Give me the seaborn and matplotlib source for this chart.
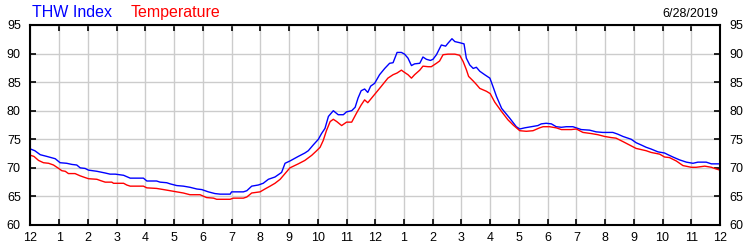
import matplotlib
matplotlib.use("Agg")
import matplotlib.pyplot as plt
import seaborn as sns
import pandas as pd

# ---- data (hours since midnight, values in deg F) ----
thw_hours = [0, 0.15, 0.34, 0.57, 0.86, 1.03, 1.26, 1.44, 1.61, 1.73, 1.90, 2.02, 2.31, 2.60, 2.77, 2.95,
             3.24, 3.47, 3.93, 4.05, 4.39, 4.51, 4.74, 4.86, 5.09, 5.32, 5.55, 5.79, 5.96, 6.19, 6.42,
             6.60, 6.95, 7.0, 7.41, 7.53, 7.70, 7.93, 8.1, 8.28, 8.51, 8.74, 8.86, 9.03, 9.32, 9.55,
             9.67, 9.84, 10.02, 10.13, 10.25, 10.37, 10.54, 10.71, 10.89, 11.0, 11.18, 11.30, 11.40,
             11.51, 11.63, 11.74, 11.84, 11.98, 12.15, 12.33, 12.5, 12.62, 12.76, 12.91, 13.02, 13.14,
             13.26, 13.37, 13.55, 13.66, 13.78, 13.92, 14.01, 14.13, 14.30, 14.45, 14.53, 14.67, 14.77,
             14.94, 15.09, 15.17, 15.29, 15.41, 15.52, 15.64, 15.81, 15.99, 16.10, 16.22, 16.40, 16.68,
             16.91, 17.03, 17.20, 17.43, 17.66, 17.78, 17.95, 18.13, 18.30, 18.48, 18.65, 18.88, 19.0,
             19.17, 19.46, 19.69, 19.92, 20.27, 20.44, 20.62, 20.91, 21.08, 21.26, 21.43, 21.60, 21.84,
             22.07, 22.19, 22.36, 22.59, 22.83, 23.06, 23.23, 23.52, 23.70, 24.0]
thw_values = [73.3, 73.0, 72.3, 72.0, 71.6, 70.9, 70.8, 70.6, 70.5, 70.0, 69.9, 69.6, 69.4, 69.1, 68.9, 68.9,
              68.7, 68.2, 68.2, 67.7, 67.7, 67.5, 67.4, 67.2, 66.9, 66.8, 66.6, 66.3, 66.2, 65.8, 65.5,
              65.4, 65.4, 65.8, 65.8, 66.0, 66.8, 67.0, 67.3, 68.0, 68.4, 69.2, 70.8, 71.2, 72.0, 72.6,
              73.0, 74.0, 75.0, 76.0, 76.9, 79.0, 80.0, 79.3, 79.3, 79.8, 80.0, 80.6, 82.2,
              83.5, 83.8, 83.2, 84.3, 84.8, 86.3, 87.4, 88.3, 88.4, 90.2, 90.2, 89.9, 89.2,
              87.9, 88.2, 88.3, 89.4, 89.0, 88.8, 89.0, 89.8, 91.5, 91.3, 91.8, 92.6, 92.1,
              91.9, 91.7, 89.2, 88.0, 87.4, 87.6, 86.9, 86.3, 85.7, 84.2, 82.5, 80.4, 78.7,
              77.2, 76.8, 77.0, 77.2, 77.4, 77.7, 77.8, 77.7, 77.2, 77.1, 77.2, 77.2, 77.0,
              76.7, 76.6, 76.3, 76.2, 76.2, 75.9, 75.5, 75.0, 74.4, 74.0, 73.6, 73.3, 72.8,
              72.6, 72.3, 71.9, 71.4, 71.0, 70.8, 71.0, 71.0, 70.7, 70.7]

temp_hours = [0, 0.12, 0.28, 0.45, 0.63, 0.80, 0.98, 1.09, 1.21, 1.32, 1.55, 1.73, 1.90, 2.02, 2.31, 2.42,
              2.60, 2.83, 2.89, 3.24, 3.35, 3.47, 3.93, 4.05, 4.39, 4.63, 4.86, 5.09, 5.32, 5.55, 5.90,
              6.13, 6.37, 6.48, 6.95, 7.06, 7.41, 7.53, 7.70, 7.99, 8.16, 8.34, 8.51, 8.69, 8.86, 9.03,
              9.32, 9.55, 9.79, 9.96, 10.08, 10.19, 10.30, 10.43, 10.54, 10.66, 10.83, 11.0, 11.18,
              11.35, 11.51, 11.63, 11.74, 11.92, 12.15, 12.44, 12.62, 12.76, 12.91, 13.02, 13.14, 13.26,
              13.37, 13.55, 13.66, 13.84, 13.95, 14.13, 14.24, 14.36, 14.53, 14.77, 14.94, 15.06, 15.17,
              15.25, 15.41, 15.52, 15.64, 15.87, 16.0, 16.16, 16.39, 16.62, 16.80, 17.03, 17.26, 17.49,
              17.72, 17.84, 18.07, 18.30, 18.48, 18.82, 19.0, 19.23, 19.52, 19.75, 19.98, 20.21, 20.38,
              20.62, 20.85, 21.08, 21.43, 21.60, 21.90, 22.07, 22.24, 22.48, 22.71, 23.0, 23.17, 23.47,
              23.70, 23.87, 24.0]
temp_values = [72.2, 72.0, 71.3, 70.9, 70.8, 70.5, 69.9, 69.5, 69.4, 69.0, 69.0, 68.6, 68.3, 68.1, 68.0, 67.8,
               67.5, 67.5, 67.3, 67.3, 67.0, 66.8, 66.8, 66.5, 66.4, 66.2, 66.0, 65.8, 65.6, 65.3, 65.3,
               64.8, 64.7, 64.5, 64.5, 64.7, 64.7, 64.9, 65.6, 65.8, 66.3, 66.8, 67.3, 68.0, 69.0, 70.0,
               70.7, 71.3, 72.2, 73.0, 73.6, 74.8, 76.5, 78.1, 78.5, 78.1, 77.4, 78.0, 78.0,
               79.6, 81.0, 81.9, 81.4, 82.5, 83.9, 85.7, 86.3, 86.6, 87.1, 86.7, 86.3, 85.7,
               86.3, 87.1, 87.8, 87.7, 87.7, 88.3, 88.7, 89.8, 89.9, 89.9, 89.7, 88.6, 87.2,
               86.0, 85.2, 84.6, 83.9, 83.4, 83.0, 81.5, 79.9, 78.4, 77.5, 76.5, 76.4, 76.5,
               77.0, 77.2, 77.2, 77.0, 76.7, 76.7, 76.8, 76.2, 76.0, 75.8, 75.5, 75.3, 75.2,
               74.6, 74.0, 73.4, 73.0, 72.7, 72.4, 71.9, 71.8, 71.2, 70.4, 70.1, 70.1, 70.3,
               70.1, 69.8, 69.6]

x_tick_labels = ["12", "1", "2", "3", "4", "5", "6", "7", "8", "9", "10", "11",
                 "12", "1", "2", "3", "4", "5", "6", "7", "8", "9", "10", "11", "12"]
y_ticks = [60, 65, 70, 75, 80, 85, 90, 95]
series_names = ["THW Index", "Temperature"]
series_colors = ["#0000ff", "#ff0000"]
date_label = "6/28/2019"

sns.set_theme(style="white")
plt.rcParams["font.family"] = ["Liberation Sans", "DejaVu Sans"]

df = pd.concat([
    pd.DataFrame({"hour": thw_hours, "value": thw_values, "series": series_names[0]}),
    pd.DataFrame({"hour": temp_hours, "value": temp_values, "series": series_names[1]}),
])

fig = plt.figure(figsize=(7.5, 2.5), dpi=100)
ax = fig.add_axes([30.5 / 750, 0.1, (720 - 30.5) / 750, 0.8])

sns.lineplot(data=df, x="hour", y="value", hue="series",
             palette=dict(zip(series_names, series_colors)),
             linewidth=1.0, legend=False, ax=ax, estimator=None, sort=False)

ax.set_xlim(0, 24)
ax.set_ylim(60, 95)
ax.set_xticks(range(25))
ax.set_xticklabels(x_tick_labels)
ax.set_yticks(y_ticks)
ax.set_xlabel("")
ax.set_ylabel("")
ax.grid(True, color="#cccccc", linewidth=1.0)
ax.set_axisbelow(True)
for s in ax.spines.values():
    s.set_color("black")
    s.set_linewidth(1.5)
    s.set_visible(True)

ax.tick_params(axis="both", which="both", direction="in", length=4, width=1.2,
               color="black", labelsize=9, labelcolor="black",
               top=True, right=True, bottom=True, left=True,
               labelright=True, labelleft=True)
ax.tick_params(axis="x", pad=5)
ax.tick_params(axis="y", pad=7)

# header texts
fig.text(32 / 750, 1 - 17 / 250, series_names[0], color=series_colors[0],
         fontsize=11.5, ha="left", va="baseline")
fig.text(131 / 750, 1 - 17 / 250, series_names[1], color=series_colors[1],
         fontsize=11.5, ha="left", va="baseline")
fig.text(718 / 750, 1 - 17 / 250, date_label, color="black",
         fontsize=9, ha="right", va="baseline")

fig.savefig("out.png", dpi=100)
